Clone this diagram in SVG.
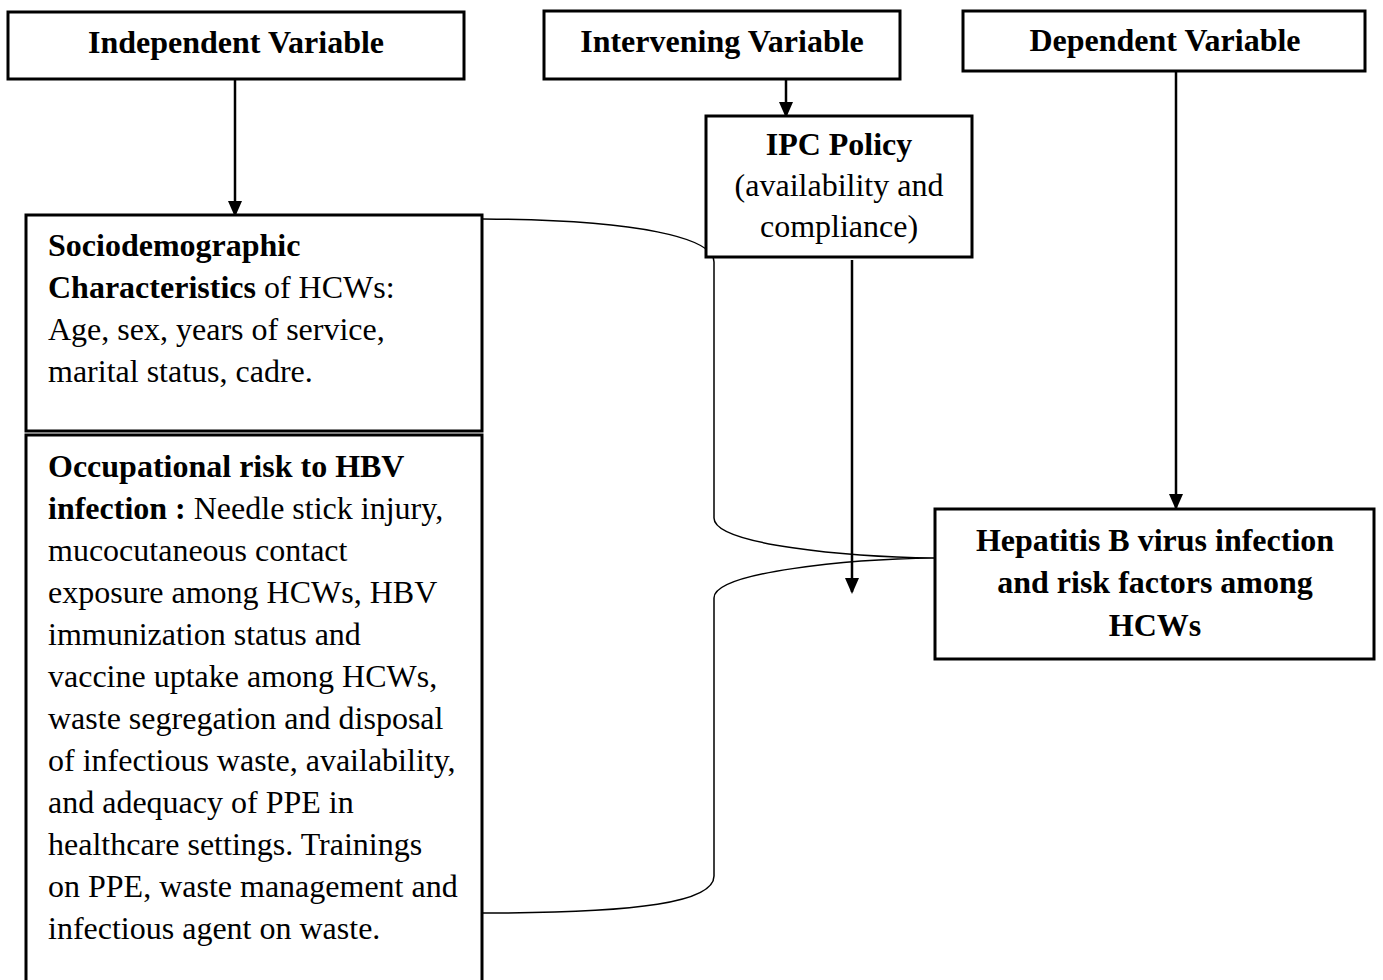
<svg xmlns="http://www.w3.org/2000/svg" width="1383" height="980" viewBox="0 0 1383 980">
<style>
.box{fill:#fff;stroke:#000;stroke-width:3}
.t{font-family:"Liberation Serif","Times New Roman",serif;font-size:32px;fill:#000}
.b{font-weight:bold}
.c{text-anchor:middle}
.arr{fill:none;stroke:#000;stroke-width:2.5}
.brace{fill:none;stroke:#000;stroke-width:1.5}
</style>
<defs>
<marker id="ah" markerUnits="userSpaceOnUse" markerWidth="16" markerHeight="20" refX="14" refY="7" orient="auto" viewBox="0 0 16 14">
<path d="M0,0 L16,7 L0,14 Z" fill="#000"/>
</marker>
</defs>
<rect width="1383" height="980" fill="#fff"/>
<g id="connectors">
<line class="arr" x1="235" y1="80" x2="235" y2="215" marker-end="url(#ah)"/>
<line class="arr" x1="786" y1="80" x2="786" y2="116" marker-end="url(#ah)"/>
<line class="arr" x1="1176" y1="72" x2="1176" y2="508" marker-end="url(#ah)"/>
<line class="arr" x1="852" y1="260" x2="852" y2="592" marker-end="url(#ah)"/>
<path class="brace" d="M483,219 C640,220 714,238 714,262 L714,518 C714,545 850,557 935,558 L945,558 M935,558 C850,559 714,572 714,598 L714,876 C714,902 640,913 483,913"/>
</g>
<g id="independent">
<rect class="box" x="8" y="12" width="456" height="67"/>
<text class="t b c" x="236" y="53">Independent Variable</text>
</g>
<g id="intervening">
<rect class="box" x="544" y="11" width="356" height="68"/>
<text class="t b c" x="722" y="52">Intervening Variable</text>
</g>
<g id="dependent">
<rect class="box" x="963" y="11" width="402" height="60"/>
<text class="t b c" x="1165" y="51">Dependent Variable</text>
</g>
<g id="ipc">
<rect class="box" x="706" y="116" width="266" height="141"/>
<text class="t b c" x="839" y="155">IPC Policy</text>
<text class="t c" x="839" y="196">(availability and</text>
<text class="t c" x="839" y="237">compliance)</text>
</g>
<g id="socio">
<rect class="box" x="26" y="215" width="456" height="216"/>
<text class="t b" x="48" y="256">Sociodemographic</text>
<text class="t" x="48" y="298"><tspan class="b">Characteristics</tspan> of HCWs:</text>
<text class="t" x="48" y="340">Age, sex, years of service,</text>
<text class="t" x="48" y="382">marital status, cadre.</text>
</g>
<g id="occupational">
<rect class="box" x="26" y="435" width="456" height="560"/>
<text class="t b" x="48" y="477">Occupational risk to HBV</text>
<text class="t" x="48" y="519"><tspan class="b">infection :</tspan> Needle stick injury,</text>
<text class="t" x="48" y="561">mucocutaneous contact</text>
<text class="t" x="48" y="603">exposure among HCWs, HBV</text>
<text class="t" x="48" y="645">immunization status and</text>
<text class="t" x="48" y="687">vaccine uptake among HCWs,</text>
<text class="t" x="48" y="729">waste segregation and disposal</text>
<text class="t" x="48" y="771">of infectious waste, availability,</text>
<text class="t" x="48" y="813">and adequacy of PPE in</text>
<text class="t" x="48" y="855">healthcare settings. Trainings</text>
<text class="t" x="48" y="897">on PPE, waste management and</text>
<text class="t" x="48" y="939">infectious agent on waste.</text>
</g>
<g id="hepatitis">
<rect class="box" x="935" y="509" width="439" height="150"/>
<text class="t b c" x="1155" y="551">Hepatitis B virus infection</text>
<text class="t b c" x="1155" y="593">and risk factors among</text>
<text class="t b c" x="1155" y="636">HCWs</text>
</g>
</svg>
